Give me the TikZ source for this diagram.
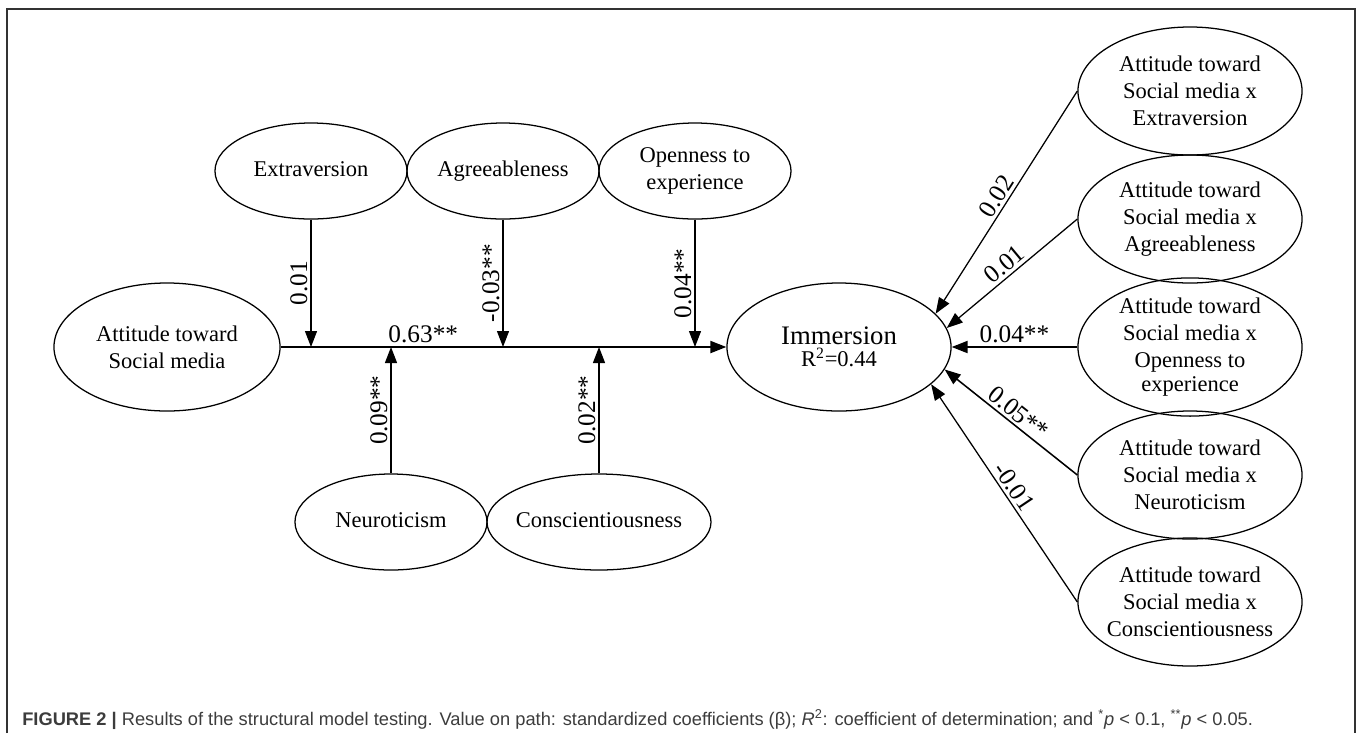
\documentclass[tikz,border=0pt]{standalone}
\usepackage{fontspec}
\setmainfont{Liberation Serif}
\newfontfamily\capfont{Liberation Sans}
\usepackage{tikz}
\usetikzlibrary{arrows.meta,shapes.geometric,positioning}
\definecolor{capgris}{RGB}{60,60,60}
\definecolor{cadre}{RGB}{50,50,50}
\tikzset{
  latent/.style={
    ellipse, draw, line width=0.9pt, inner sep=0pt,
    minimum width=4.8cm, minimum height=2.4cm, align=center,
    font=\fontsize{16}{19}\selectfont
  },
  interac/.style={
    latent, minimum width=5.6cm, minimum height=3.2cm
  },
  pathline/.style={->, >={Triangle[length=4mm, width=3mm]}, line width=0.9pt},
  mainline/.style={pathline, line width=1.5pt},
  coef/.style={font=\fontsize{18}{20}\selectfont, inner sep=2pt}
}

\begin{document}
\begin{tikzpicture}[x=0.025cm, y=-0.025cm]
  \useasboundingbox (0,0) rectangle (1357,733);
  \draw[cadre, line width=1pt] (7,733) -- (7,9) -- (1355,9) -- (1355,733);

  % main path
  \node[latent, minimum width=5.65cm, minimum height=3.2cm] (att) at (167,347) {Attitude toward\\Social media};
  \node[interac] (imm) at (839,347) {{\fontsize{19}{21}\selectfont Immersion}\\[-3pt]R\textsuperscript{2}=0.44};

  % personality traits
  \node[latent] (ext) at (311,171) {\strut Extraversion};
  \node[latent] (agr) at (503,171) {\strut Agreeableness};
  \node[latent] (opn) at (695,171) {Openness to\\experience};
  \node[latent] (neu) at (391,522) {\strut Neuroticism};
  \node[latent, minimum width=5.6cm, inner xsep=-1mm] (con) at (599,522) {\strut Conscientiousness};

  % interaction terms
  \node[interac] (ixext) at (1190,91) {Attitude toward\\Social media x\\Extraversion};
  \node[interac] (ixagr) at (1190,219) {Attitude toward\\Social media x\\Agreeableness};
  \node[interac] (ixopn) at (1190,347) {Attitude toward\\Social media x\\Openness to\\[-2pt]experience};
  \node[interac] (ixneu) at (1190,475) {Attitude toward\\Social media x\\Neuroticism};
  \node[interac, inner xsep=-1mm] (ixcon) at (1190,602) {Attitude toward\\Social media x\\Conscientiousness};

  \coordinate (jext) at (ext |- att);
  \coordinate (jagr) at (agr |- att);
  \coordinate (jopn) at (opn |- att);
  \coordinate (jneu) at (neu |- att);
  \coordinate (jcon) at (con |- att);

  \draw[mainline] (att) -- node[coef, above, pos=0.32] {0.63**} (imm);

  \draw[pathline] (ext) -- node[coef, midway, rotate=90, anchor=south] {0.01} (jext);
  \draw[pathline] (agr) -- node[coef, midway, rotate=90, anchor=south] {-0.03**} (jagr);
  \draw[pathline] (opn) -- node[coef, midway, rotate=90, anchor=south] {0.04**} (jopn);
  \draw[pathline] (neu) -- node[coef, midway, rotate=90, anchor=south] {0.09**} (jneu);
  \draw[pathline] (con) -- node[coef, midway, rotate=90, anchor=south] {0.02**} (jcon);

  \draw[pathline] (ixext.west) -- node[coef, sloped, above, pos=0.5] {0.02} (imm.19);
  \draw[pathline] (ixagr.west) -- node[coef, sloped, above, pos=0.5] {0.01} (imm.10);
  \draw[mainline] (ixopn) -- node[coef, above] {0.04**} (imm);
  \draw[pathline, line width=1.1pt] (ixneu.west) -- node[coef, sloped, above, pos=0.5] {0.05**} (imm.-12);
  \draw[pathline] (ixcon.west) -- node[coef, sloped, above, pos=0.5] {-0.01} (imm.-22);

  % caption
  \node[anchor=base west, inner sep=0pt, text=capgris, font=\capfont\fontsize{13}{15}\selectfont] (cap) at (22,725)
    {\textbf{FIGURE 2 |} Results of the structural model testing. Value on path: standardized coefficients (β); \textit{R}\textsuperscript{2}: coefficient of determination; and \textsuperscript{*}\textit{p} < 0.1, \textsuperscript{**}\textit{p} < 0.05.};
\end{tikzpicture}
\end{document}
